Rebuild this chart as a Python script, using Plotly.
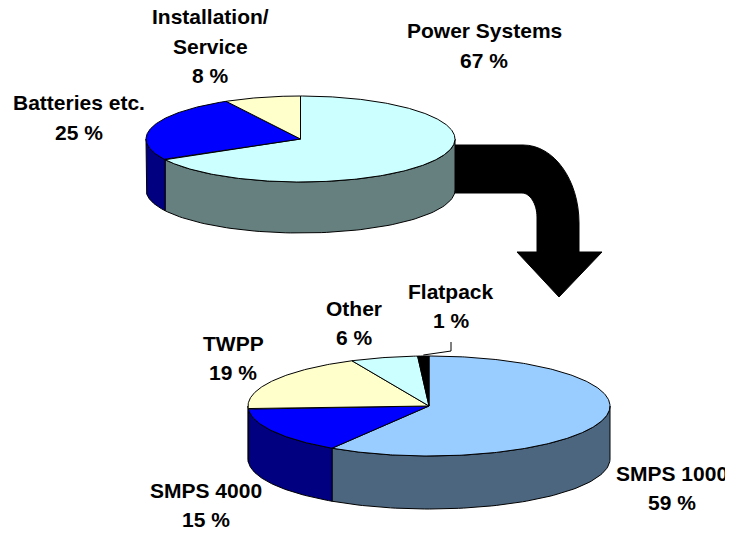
import numpy as np
import plotly.graph_objects as go

# ---------------- data ----------------
top_labels = ["Power Systems", "Batteries etc.", "Installation/<br>Service"]
top_values = [67, 25, 8]
top_colors = ["#CCFFFF", "#0000FF", "#FFFFCC"]

bottom_labels = ["SMPS 1000", "SMPS 4000", "TWPP", "Other", "Flatpack"]
bottom_values = [59, 15, 19, 6, 1]
bottom_colors = ["#99CCFF", "#0000FF", "#FFFFCC", "#CCFFFF", "#000000"]

# ---------------- geometry / layout (pixel-like axis units) ----------------
W, H = 733, 536
PAGE_MARGIN = 8  # default body margin of the html page
TOP_PIE = dict(cx=300.5, cy=139, rx=154.5, ry=43, depth=51)
BOT_PIE = dict(cx=429, cy=406, rx=181, ry=50, depth=53)
TOP_LABEL_POS = [(484, 45.5), (79, 117.5), (210, 46)]
BOT_LABEL_POS = [(672, 488), (206, 505), (233, 358), (354, 323), (451, 306)]
FONT = dict(family="Liberation Sans, Arial, sans-serif", size=21, color="black")
LINE_GAP = 29.5


def darken(hex_color, f=0.5):
    h = hex_color.lstrip("#")
    r, g, b = (int(h[i:i + 2], 16) for i in (0, 2, 4))
    return "#%02x%02x%02x" % (round(r * f), round(g * f), round(b * f))


def rim(p, th_deg, dy=0.0):
    t = np.radians(th_deg)
    return p["cx"] + p["rx"] * np.sin(t), p["cy"] - p["ry"] * np.cos(t) + dy


def pie3d(values, colors, p):
    tot = float(sum(values))
    edges = np.concatenate([[0.0], np.cumsum(values) / tot * 360.0])
    sides, tops = [], []
    for i, c in enumerate(colors):
        a, b = edges[i], edges[i + 1]
        # visible outer wall (front half of the ellipse)
        lo, hi = max(a, 90.0), min(b, 270.0)
        if hi > lo:
            th = np.linspace(lo, hi, 80)
            xt, yt = rim(p, th)
            xb, yb = rim(p, th[::-1], p["depth"])
            xs = np.concatenate([xt, xb, xt[:1]])
            ys = np.concatenate([yt, yb, yt[:1]])
            sides.append(go.Scatter(x=xs, y=ys, mode="lines", fill="toself",
                                    fillcolor=darken(c), line=dict(color="black", width=1),
                                    hoverinfo="skip", showlegend=False))
        th = np.linspace(a, b, max(4, int((b - a) * 1.5)))
        xa, ya = rim(p, th)
        xs = np.concatenate([[p["cx"]], xa, [p["cx"]]])
        ys = np.concatenate([[p["cy"]], ya, [p["cy"]]])
        tops.append(go.Scatter(x=xs, y=ys, mode="lines", fill="toself",
                               fillcolor=c, line=dict(color="black", width=1),
                               hoverinfo="skip", showlegend=False))
    return sides + tops, edges


fig = go.Figure()

top_traces, top_edges = pie3d(top_values, top_colors, TOP_PIE)
bot_traces, bot_edges = pie3d(bottom_values, bottom_colors, BOT_PIE)
for t in top_traces + bot_traces:
    fig.add_trace(t)

# leader line for the smallest slice (Flatpack)
mid = (bot_edges[-2] + bot_edges[-1]) / 2
lx, ly = rim(BOT_PIE, mid)
fx, fy = BOT_LABEL_POS[-1]
fig.add_trace(go.Scatter(x=[lx, fx, fx], y=[ly - 1, ly - 5, fy + 36],
                         mode="lines", line=dict(color="black", width=1),
                         hoverinfo="skip", showlegend=False))

# labels
annotations = []


def add_label(text, pos):
    lines = text.split("<br>")
    n = len(lines)
    for k, ln in enumerate(lines):
        y = pos[1] + (k - (n - 1) / 2) * LINE_GAP
        annotations.append(dict(x=pos[0], y=y, xref="x", yref="y", text="<b>%s</b>" % ln,
                                showarrow=False, font=FONT, xanchor="center", yanchor="middle"))


for lab, val, pos in zip(top_labels, top_values, TOP_LABEL_POS):
    add_label("%s<br>%d %%" % (lab, val), pos)
for lab, val, pos in zip(bottom_labels, bottom_values, BOT_LABEL_POS):
    add_label("%s<br>%d %%" % (lab, val), pos)

# curved arrow (decoration) behind the top pie
arrow_path = ("M 440,145 L 523,145 C 554,145 579,180 579,223 L 579,252 L 602,252 "
              "L 559,297 L 517,252 L 537,252 L 537,217 C 537,204 530,193 522,193 "
              "L 440,193 Z")

fig.update_layout(
    width=W - PAGE_MARGIN, height=H - PAGE_MARGIN,
    margin=dict(l=0, r=0, t=0, b=0),
    paper_bgcolor="white", plot_bgcolor="white",
    xaxis=dict(range=[PAGE_MARGIN, W], visible=False, fixedrange=True),
    yaxis=dict(range=[H, PAGE_MARGIN], visible=False, fixedrange=True),
    showlegend=False,
    annotations=annotations,
    shapes=[dict(type="path", path=arrow_path, xref="x", yref="y",
                 fillcolor="black", line=dict(color="black", width=1), layer="below")],
)

fig.write_html("out.html")
